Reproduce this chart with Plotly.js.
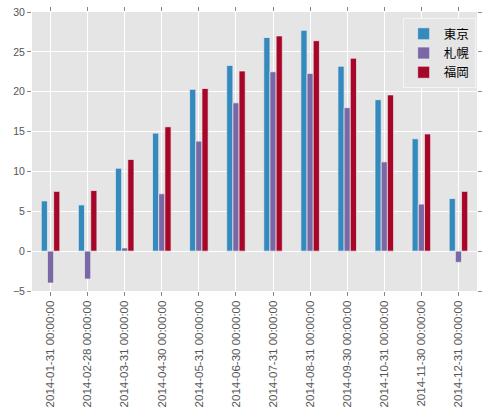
<!DOCTYPE html>
<html>
<head>
<meta charset="utf-8">
<script src="https://cdn.plot.ly/plotly-3.0.1.min.js"></script>
<style>html,body{margin:0;padding:0;background:#fff;}#chart{width:485px;height:415px;}</style>
</head>
<body>
<div id="chart"></div>
<script>
const categories = ["2014-01-31 00:00:00","2014-02-28 00:00:00","2014-03-31 00:00:00","2014-04-30 00:00:00","2014-05-31 00:00:00","2014-06-30 00:00:00","2014-07-31 00:00:00","2014-08-31 00:00:00","2014-09-30 00:00:00","2014-10-31 00:00:00","2014-11-30 00:00:00","2014-12-31 00:00:00"];
const seriesNames = ["東京","札幌","福岡"];
const tokyo = [6.3, 5.8, 10.4, 14.8, 20.3, 23.3, 26.8, 27.7, 23.2, 19.0, 14.1, 6.6];
const sapporo = [-4.0, -3.5, 0.4, 7.2, 13.8, 18.6, 22.5, 22.3, 18.0, 11.2, 5.9, -1.4];
const fukuoka = [7.5, 7.6, 11.5, 15.6, 20.4, 22.6, 27.0, 26.4, 24.2, 19.6, 14.7, 7.5];
const yTicks = [-5, 0, 5, 10, 15, 20, 25, 30];
const colors = ["#348ABD", "#7A68A6", "#A60628"];

const allSeries = [tokyo, sapporo, fukuoka];
const traces = allSeries.map((vals, i) => ({
  type: 'bar',
  name: seriesNames[i],
  x: categories,
  y: vals,
  marker: {color: colors[i], line: {color: '#EEEEEE', width: 0.7}}
}));

const yFont = {family: '"Liberation Sans", Arial, sans-serif', size: 10.5, color: '#555555'};
const xFont = {family: '"Liberation Sans", Arial, sans-serif', size: 11.5, color: '#555555'};
const layout = {
  width: 485, height: 415,
  margin: {l: 32, r: 8, t: 12, b: 124},
  paper_bgcolor: '#ffffff',
  plot_bgcolor: '#E5E5E5',
  barmode: 'group',
  bargap: 0.5,
  bargroupgap: 0,
  showlegend: true,
  legend: {
    x: 0.997, xanchor: 'right', y: 0.978, yanchor: 'top',
    bgcolor: '#E5E5E5', bordercolor: '#F4F4F4', borderwidth: 1,
    font: {family: '"Noto Sans CJK JP", sans-serif', size: 12.5, color: '#000'},
    tracegroupgap: 2
  },
  xaxis: {
    type: 'category',
    range: [-0.5, 11.5],
    tickangle: -90,
    tickfont: xFont,
    ticks: 'outside', ticklen: 4, tickcolor: '#888888', tickwidth: 1,
    mirror: 'ticks',
    showline: false,
    showgrid: true, gridcolor: '#ffffff', gridwidth: 1,
    zeroline: false
  },
  yaxis: {
    range: [-5, 30],
    tickvals: yTicks,
    ticktext: yTicks.map(v => v < 0 ? '\u2212' + Math.abs(v) : String(v)),
    tickfont: yFont,
    ticks: 'outside', ticklen: 4, tickcolor: '#888888', tickwidth: 1,
    mirror: 'ticks',
    showline: false,
    showgrid: true, gridcolor: '#ffffff', gridwidth: 1,
    zeroline: false
  }
};

Plotly.newPlot('chart', traces, layout, {displayModeBar: false, staticPlot: true});
</script>
</body>
</html>
